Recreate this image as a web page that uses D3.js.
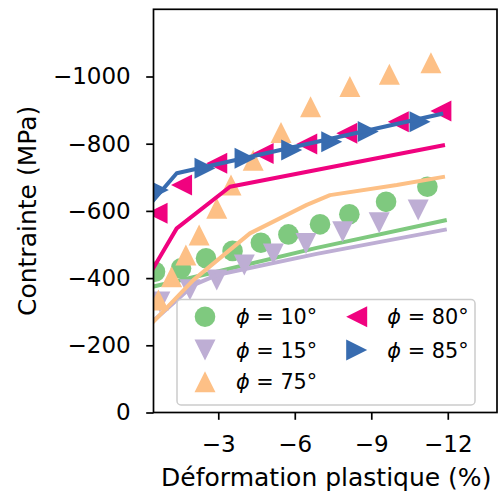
<!DOCTYPE html>
<html><head><meta charset="utf-8">
<script src="https://cdn.jsdelivr.net/npm/d3@7"></script>
<style>body{margin:0;background:#fff}svg{font-family:"DejaVu Sans",sans-serif}</style>
</head><body>
<svg id="c" width="499" height="495"></svg>
<script>
// ---- data ----
const seriesNames = ["10°", "15°", "75°", "80°", "85°"];
const colors = ["#7fc97f", "#beaed4", "#fdc086", "#f0027f", "#386cb0"];
const markers = ["circle", "down", "up", "left", "right"];

const x10 = [-0.52, -1.54, -2.52, -3.56, -4.67, -5.75, -6.99, -8.14, -9.58, -11.2];
const y10 = [-419, -429, -459, -481, -505, -530, -560, -590, -627, -672];
const x15 = [-0.71, -1.89, -2.94, -4.02, -5.16, -6.44, -7.88, -9.31, -10.84];
const y15 = [-329, -365, -394, -439, -472, -503, -538, -565, -603];
const x75 = [-0.65, -1.17, -1.73, -2.25, -2.94, -3.5, -4.37, -5.46, -6.62, -8.16, -9.71, -11.34];
const y75 = [-335, -404, -469, -528, -608, -677, -751, -833, -910, -970, -1007, -1041];
const x80 = [-0.6, -1.56, -2.94, -4.76, -6.47, -8.04, -10.06, -11.73];
const y80 = [-593, -677, -742, -771, -799, -831, -865, -897];
const x85 = [-0.65, -2.48, -4.05, -5.88, -7.45, -8.88, -10.91];
const y85 = [-662, -727, -757, -781, -806, -836, -865];

// model curves
const lx10 = [-0.3, -2.94, -6.86, -11.96];
const ly10 = [-372, -419, -490, -573];
const lx15 = [-0.3, -2.02, -2.94, -6.86, -11.96];
const ly15 = [-262, -379, -409, -472, -545];
const lx75 = [-0.3, -2.02, -4.24, -6.47, -7.38, -10.0, -11.89];
const ly75 = [-258, -394, -533, -618, -647, -677, -702];
const lx80 = [-0.3, -1.37, -3.46, -11.89];
const ly80 = [-410, -548, -672, -796];
const lx85 = [-0.3, -1.37, -11.82];
const ly85 = [-618, -712, -890];

const yTicks = [0, -200, -400, -600, -800, -1000];
const xTicks = [-3, -6, -9, -12];

const pts = [[x10,y10],[x15,y15],[x75,y75],[x80,y80],[x85,y85]];
const lns = [[lx10,ly10],[lx15,ly15],[lx75,ly75],[lx80,ly80],[lx85,ly85]];

// ---- layout ----
const L = 153.5, R = 497, T = 9.3, B = 412.5;
const svg = d3.select("#c");
const x = d3.scaleLinear().domain([-0.46, -13.93]).range([L, R]);
const y = d3.scaleLinear().domain([0, -1200]).range([B, T]);

svg.append("defs").append("clipPath").attr("id","clip")
  .append("rect").attr("x",L).attr("y",T).attr("width",R-L).attr("height",B-T);

const fmt = v => (v < 0 ? "\u2212" + Math.abs(v) : "" + v);

function markerPath(kind, s) {
  const h = s / 2;
  if (kind === "up") return `M0,${-h}L${h},${h}L${-h},${h}Z`;
  if (kind === "down") return `M0,${h}L${h},${-h}L${-h},${-h}Z`;
  if (kind === "left") return `M${-h},0L${h},${-h}L${h},${h}Z`;
  if (kind === "right") return `M${h},0L${-h},${-h}L${-h},${h}Z`;
  return null;
}
function drawMarker(g, kind, cx, cy, color) {
  if (kind === "circle") {
    g.append("circle").attr("cx",cx).attr("cy",cy).attr("r",10.3).attr("fill",color);
  } else {
    g.append("path").attr("d",markerPath(kind,21)).attr("transform",`translate(${cx},${cy})`).attr("fill",color);
  }
}

const plot = svg.append("g").attr("clip-path","url(#clip)");
const line = d3.line().x(d=>x(d[0])).y(d=>y(d[1]));
seriesNames.forEach((n,i) => {
  const [xs, ys] = pts[i];
  xs.forEach((xv,j) => drawMarker(plot, markers[i], x(xv), y(ys[j]), colors[i]));
  const [lx, ly] = lns[i];
  plot.append("path").datum(lx.map((v,j)=>[v,ly[j]])).attr("d",line)
    .attr("fill","none").attr("stroke",colors[i]).attr("stroke-width",4)
    .attr("stroke-linejoin","round");
});

// axes
const xAxis = d3.axisBottom(x).tickValues(xTicks).tickFormat(fmt).tickSize(7.3).tickPadding(15.5);
const yAxis = d3.axisLeft(y).tickValues(yTicks).tickFormat(fmt).tickSize(7.3).tickPadding(15.5);
const gx = svg.append("g").attr("transform",`translate(0,${B})`).call(xAxis);
const gy = svg.append("g").attr("transform",`translate(${L},0)`).call(yAxis);
[gx, gy].forEach(g => {
  g.select(".domain").remove();
  g.selectAll(".tick line").attr("stroke","#000").attr("stroke-width",1.7);
  g.selectAll(".tick text").attr("fill","#000").style("font-size","23px").style("font-family","DejaVu Sans");
});
// spines
svg.append("rect").attr("x",L).attr("y",T).attr("width",R-L).attr("height",B-T)
  .attr("fill","none").attr("stroke","#000").attr("stroke-width",1.7);

// labels
svg.append("text").attr("x",(L+R)/2 + 1).attr("y",486).attr("text-anchor","middle")
  .style("font-size","25px").text("Déformation plastique (%)");
svg.append("text").attr("transform",`translate(36,${(T+B)/2}) rotate(-90)`).attr("text-anchor","middle")
  .style("font-size","25px").text("Contrainte (MPa)");

// legend
const lg = svg.append("g");
lg.append("rect").attr("x",177).attr("y",299.5).attr("width",298).attr("height",105.5).attr("rx",4)
  .attr("fill","#fff").attr("fill-opacity",0.8).attr("stroke","#ccc").attr("stroke-width",1.5);
const colX = [205, 356.7], textX = [236, 387.3], rowY = [316.7, 350, 381.7];
seriesNames.forEach((n,i) => {
  const c = i < 3 ? 0 : 1, r = i < 3 ? i : i - 3;
  drawMarker(lg, markers[i], colX[c], rowY[r], colors[i]);
  const t = lg.append("text").attr("x",textX[c]).attr("y",rowY[r]+7.5).style("font-size","20.8px");
  t.append("tspan").style("font-style","italic").text("ϕ");
  t.append("tspan").text(" = " + n);
});
</script>
</body></html>
